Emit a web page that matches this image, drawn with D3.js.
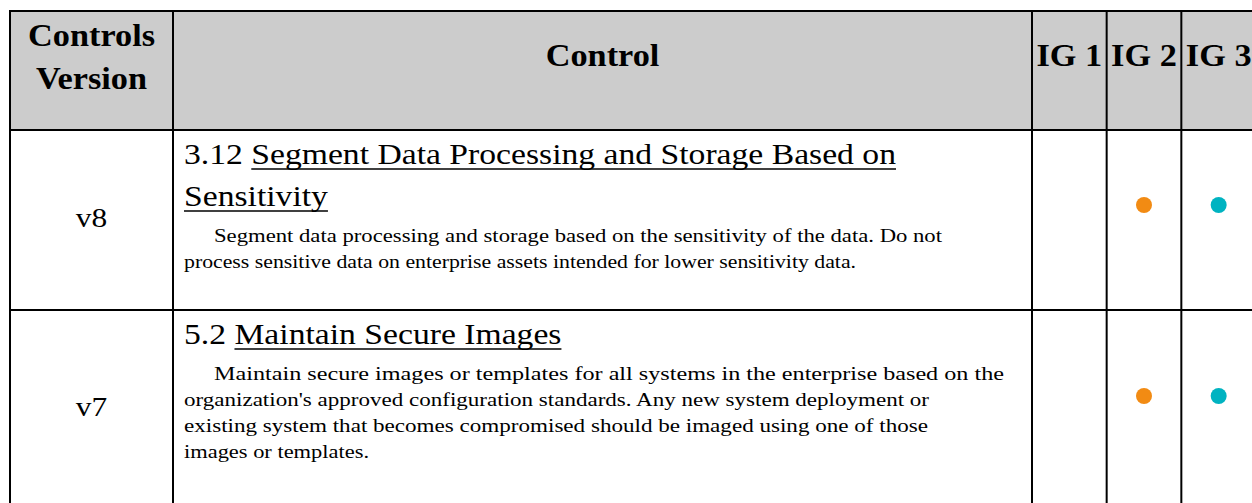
<!DOCTYPE html>
<html><head><meta charset="utf-8">
<script src="https://cdn.jsdelivr.net/npm/d3@7"></script>
<style>html,body{margin:0;padding:0;background:#fff;overflow:hidden}</style>
</head><body>
<svg id="c" width="1252" height="503"></svg>
<script>
// ---- data ----
const headerVersion = ["Controls", "Version"];
const headerControl = "Control";
const igLabels = ["IG 1", "IG 2", "IG 3"];
const versions = ["v8", "v7"];
const controlIds = ["3.12", "5.2"];
const controlTitles = [
  ["Segment Data Processing and Storage Based on", "Sensitivity"],
  ["Maintain Secure Images"]
];
const descriptions = [
  ["Segment data processing and storage based on the sensitivity of the data. Do not",
   "process sensitive data on enterprise assets intended for lower sensitivity data."],
  ["Maintain secure images or templates for all systems in the enterprise based on the",
   "organization's approved configuration standards. Any new system deployment or",
   "existing system that becomes compromised should be imaged using one of those",
   "images or templates."]
];
const ig1 = [false, false];
const ig2 = [true, true];
const ig3 = [true, true];
const igColors = ["#f28b13", "#f28b13", "#00b3c1"];

// ---- layout (not data) ----
const svg = d3.select("#c");
const FONT = "'Liberation Serif', serif";
const tLeft = 10, tTop = 11, tRight = 1262, tBottom = 520;
const colVerEnd = 173, colCtlEnd = 1032;
const igX = d3.scaleBand().domain(igLabels).range([colCtlEnd, 1256]);
const rowTop = d3.scaleOrdinal().domain(versions).range([130, 310]);
const dotY = d3.scaleOrdinal().domain(versions).range([205, 396]);
const verY = d3.scaleOrdinal().domain(versions).range([227, 416]);
const TS = 30, DS = 19.5, HS = 32;
// right edge of each wrapped description line (matches the source's wrapping)
const descLineEnds = [[942, 856], [1004, 929, 928, 369]];

const meas = svg.append("text").attr("x", -9999).attr("y", -9999).attr("xml:space", "preserve");
function natural(str, size, weight) {
  meas.attr("font-family", FONT).attr("font-size", size).attr("font-weight", weight || "normal").text(str);
  return meas.node().getComputedTextLength();
}
const hdrRatio = 127 / natural("Controls", HS, "bold");
const ttlRatio = 712 / natural("3.12 Segment Data Processing and Storage Based on", TS);

function addText(g, str, x, y, size, weight, ratio, anchor, fixedW) {
  const w = fixedW || natural(str, size, weight) * ratio;
  g.append("text").attr("x", x).attr("y", y)
    .attr("font-family", FONT).attr("font-size", size).attr("font-weight", weight || "normal")
    .attr("text-anchor", anchor || "start").attr("fill", "#000")
    .attr("textLength", w).attr("lengthAdjust", "spacingAndGlyphs").text(str);
  return w;
}

svg.append("rect").attr("x", tLeft).attr("y", tTop).attr("width", tRight - tLeft).attr("height", 130 - tTop).attr("fill", "#cccccc");

const hg = svg.append("g");
headerVersion.forEach((s, i) => addText(hg, s, (tLeft + colVerEnd) / 2, 46 + i * 43, HS, "bold", hdrRatio, "middle"));
addText(hg, headerControl, (colVerEnd + colCtlEnd) / 2, 66, HS, "bold", hdrRatio, "middle");
igLabels.forEach(l => addText(hg, l, igX(l) + igX.bandwidth() / 2, 66, HS, "bold", hdrRatio, "middle"));

const tx = 184, indent = 30;
versions.forEach((v, r) => {
  const g = svg.append("g");
  const t0 = rowTop(v);
  addText(g, v, (tLeft + colVerEnd) / 2, verY(v), 28, "normal", ttlRatio, "middle");
  let y = t0 + 34;
  controlTitles[r].forEach((line, li) => {
    let x = tx;
    if (li === 0) {
      const pre = controlIds[r] + " " + line;
      x = tx + (natural(pre, TS) - natural(line, TS)) * ttlRatio;
      addText(g, controlIds[r], tx, y, TS, "normal", ttlRatio);
    }
    const w = addText(g, line, x, y, TS, "normal", ttlRatio);
    g.append("line").attr("x1", x).attr("x2", x + w).attr("y1", y + 5).attr("y2", y + 5)
      .attr("stroke", "#000").attr("stroke-width", 1.6);
    y += 42;
  });
  y = y - 42 + 36;
  descriptions[r].forEach((line, li) => {
    const x = li === 0 ? tx + indent : tx;
    addText(g, line, x, y, DS, "normal", 1, "start", descLineEnds[r][li] - x);
    y += 26;
  });
  [ig1, ig2, ig3].forEach((arr, k) => {
    if (arr[r]) {
      g.append("circle").attr("cx", igX(igLabels[k]) + igX.bandwidth() / 2).attr("cy", dotY(v))
        .attr("r", 8).attr("fill", igColors[k]);
    }
  });
});
meas.remove();

const lines = svg.append("g").attr("stroke", "#000").attr("stroke-width", 2);
lines.append("line").attr("x1", tLeft).attr("x2", tRight).attr("y1", tTop).attr("y2", tTop);
lines.append("line").attr("x1", tLeft).attr("x2", tLeft).attr("y1", tTop - 1).attr("y2", tBottom);
[colVerEnd, colCtlEnd, ...igLabels.slice(1).map(l => igX(l))].forEach(x =>
  lines.append("line").attr("x1", x).attr("x2", x).attr("y1", tTop).attr("y2", tBottom));
versions.forEach(v => lines.append("line").attr("x1", tLeft).attr("x2", tRight).attr("y1", rowTop(v)).attr("y2", rowTop(v)));
</script>
</body></html>
